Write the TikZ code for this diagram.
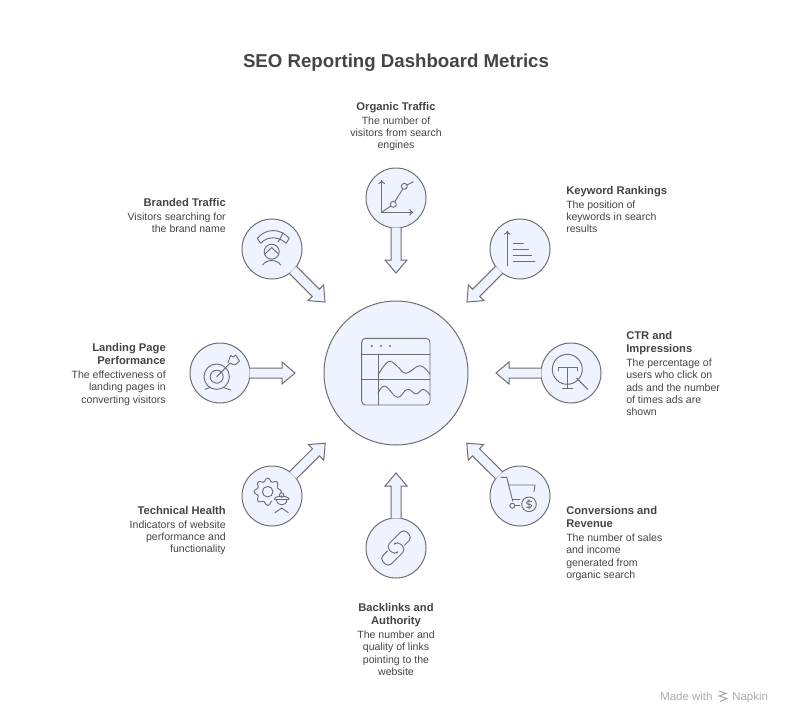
\documentclass[tikz,border=0pt]{standalone}
\usepackage{fontspec}
\setmainfont{Liberation Sans}
\usetikzlibrary{calc,arrows.meta}
\definecolor{inkgray}{HTML}{444444}
\definecolor{linegray}{HTML}{6E6E6E}
\definecolor{spotfill}{HTML}{EEF3FF}
\definecolor{marksgray}{HTML}{ABABAB}
\newcommand{\labhead}[1]{{\fontsize{8.4}{9.15}\selectfont\bfseries #1}}

\begin{document}
\begin{tikzpicture}[
  x=0.75pt,y=-0.75pt,
  spot/.style={circle,draw=linegray,fill=spotfill,line width=0.75pt,minimum size=45pt,inner sep=0pt},
  hubspot/.style={spot,minimum size=108pt},
  spoke/.style={draw=linegray,fill=spotfill,line width=0.75pt,line join=miter,to path={
    ($(\tikztostart)!22.2pt!(\tikztotarget)!3.75pt!90:(\tikztotarget)$)
    -- ($(\tikztostart)!46.5pt!(\tikztotarget)!3.75pt!90:(\tikztotarget)$)
    -- ($(\tikztostart)!46.5pt!(\tikztotarget)!8.25pt!90:(\tikztotarget)$)
    -- ($(\tikztostart)!56.25pt!(\tikztotarget)$)
    -- ($(\tikztostart)!46.5pt!(\tikztotarget)!8.25pt!-90:(\tikztotarget)$)
    -- ($(\tikztostart)!46.5pt!(\tikztotarget)!3.75pt!-90:(\tikztotarget)$)
    -- ($(\tikztostart)!22.2pt!(\tikztotarget)!3.75pt!-90:(\tikztotarget)$)}},
  glyph/.style={draw=linegray,line width=0.7pt,line cap=round,line join=round},
  tick/.style={glyph,-{To[length=3pt,width=5pt]}},
  lab/.style={inner sep=0pt,text=inkgray,font=\fontsize{7.9}{9.15}\selectfont},
  labc/.style={lab,align=center,anchor=north},
  labl/.style={lab,align=left,anchor=north west},
  labr/.style={lab,align=right,anchor=north east},
  marks/.style={inner sep=0pt,anchor=base west,text=marksgray,font=\fontsize{8.6}{10}\selectfont}
]
  \useasboundingbox (0,0) rectangle (792,724);

  \node[inner sep=0pt,text=inkgray,font=\fontsize{14}{18}\selectfont\bfseries] (title) at (396,63) {SEO Reporting Dashboard Metrics};

  \node[hubspot] (hub) at (396,373) {};
  \node[spot] (organic) at (396,198) {};
  \node[spot] (branded) at (272,249) {};
  \node[spot] (keyword) at (520,249) {};
  \node[spot] (landing) at (220,373) {};
  \node[spot] (ctr) at (571,373) {};
  \node[spot] (technical) at (272,496) {};
  \node[spot] (conversions) at (520,496) {};
  \node[spot] (backlinks) at (396,548) {};

  \draw[spoke] (organic) to (hub);
  \draw[spoke] (branded) to (hub);
  \draw[spoke] (keyword) to (hub);
  \draw[spoke] (landing) to (hub);
  \draw[spoke] (ctr) to (hub);
  \draw[spoke] (technical) to (hub);
  \draw[spoke] (conversions) to (hub);
  \draw[spoke] (backlinks) to (hub);

  \node[labc] (organic-text) at (396,102) {\labhead{Organic Traffic}\\[1.2pt]The number of\\visitors from search\\engines};
  \node[labr] (branded-text) at (226,198) {\labhead{Branded Traffic}\\[1.2pt]Visitors searching for\\the brand name};
  \node[labl] (keyword-text) at (566,186) {\labhead{Keyword Rankings}\\[1.2pt]The position of\\keywords in search\\results};
  \node[labr] (landing-text) at (166,343) {\labhead{Landing Page}\\[1pt]\labhead{Performance}\\[1.2pt]The effectiveness of\\landing pages in\\converting visitors};
  \node[labl] (ctr-text) at (626,331) {\labhead{CTR and}\\[1pt]\labhead{Impressions}\\[1.2pt]The percentage of\\users who click on\\ads and the number\\of times ads are\\shown};
  \node[labr] (technical-text) at (226,506) {\labhead{Technical Health}\\[1.2pt]Indicators of website\\performance and\\functionality};
  \node[labl] (conversions-text) at (566,506) {\labhead{Conversions and}\\[1pt]\labhead{Revenue}\\[1.2pt]The number of sales\\and income\\generated from\\organic search};
  \node[labc] (backlinks-text) at (396,603) {\labhead{Backlinks and}\\[1pt]\labhead{Authority}\\[1.2pt]The number and\\quality of links\\pointing to the\\website};

  \node[marks] (made) at (660,700) {Made with};
  \node[marks] (napkin) at (732,700) {Napkin};
  \draw[marksgray,line width=0.8pt] (719,691) -- (726,693.5) -- (719,696) -- (727,698.5) -- (720,701.5);

  % hub icon
  \draw[glyph,rounded corners=3pt] (361.7,338.3) rectangle (430,405);
  \draw[glyph] (361.7,354) -- (430,354);
  \draw[glyph] (361.7,379.3) -- (430,379.3);
  \draw[glyph] (378,354) -- (378,405);
  \fill[linegray] (371.7,346) circle (1.2) (381,346) circle (1.2) (390,346) circle (1.2);
  \draw[glyph] plot[smooth,tension=0.7] coordinates {(378,375) (388.3,361.7) (397,366) (406,373.3) (420,365.7) (430,374.3)};
  \draw[glyph] plot[smooth,tension=0.7] coordinates {(378,393.3) (385,386) (397.3,397.3) (407.3,389.3) (416,394) (423.3,389.3) (430,395)};

  % organic icon
  \draw[tick] (381.7,212.3) -- (381.7,180);
  \draw[tick] (381.7,212.3) -- (413.3,212.3);
  \draw[glyph] (381.7,212.3) -- (390.8,206) (394.8,201.6) -- (402.8,189) (407,185) -- (413.3,181.7);
  \draw[glyph] (393.3,204.3) circle (3) (404.3,186.3) circle (3);

  % branded icon
  \draw[glyph] (257.3,238.3) .. controls (266,228) and (280,228) .. (289.3,238.3) -- (286,243.3) .. controls (279,236) and (267,236) .. (260.7,243.3) -- cycle;
  \draw[glyph] (278.3,241.7) -- (283.3,232.7);
  \draw[glyph] (271.7,251.7) circle (7.5);
  \draw[glyph] (265,254) -- (271.7,247.5) -- (278.5,254);
  \draw[glyph] (262.7,265) .. controls (266,259) and (277,259) .. (280.7,265);

  % keyword icon
  \draw[tick] (507.3,266) -- (507.3,230.7);
  \draw[glyph] (513.3,243.3) -- (523.3,243.3) (513.3,249.3) -- (528.3,249.3) (513.3,255) -- (531.7,255) (513.3,261) -- (535,261);

  % landing icon
  \draw[glyph] (216.7,376.7) circle (12.7) (216.7,376.7) circle (6.5);
  \draw[glyph] (210,387.5) -- (205,389.3) (223.3,387.5) -- (230.7,390);
  \draw[glyph] (216.7,376.7) -- (230,363.3);
  \draw[glyph] (228,363) -- (230.5,355.5) -- (233.5,357) -- (235.5,355) -- (239.5,361) -- (235,365) -- (230,363.3);

  % ctr icon
  \draw[glyph] (567.3,369.3) circle (15);
  \draw[glyph] (558.3,371) -- (558.3,367.3) -- (577.3,367.3) -- (577.3,371);
  \draw[glyph] (567.3,367.3) -- (567.3,388.3) (562.7,388.3) -- (572.7,388.3);
  \draw[glyph] (576.7,378.3) -- (587.7,389.3);

  % technical icon
  \draw[glyph] plot[smooth cycle,domain=0:352.5,samples=48] ({267.7+(12+1.7*cos(8*\x))*cos(\x)},{491.7+(12+1.7*cos(8*\x))*sin(\x)});
  \draw[glyph] (267.7,491.7) circle (5.3);
  \path[fill=spotfill] (281.7,502) circle (9.5);
  \draw[glyph] (281.7,495) circle (2.2);
  \draw[glyph] (275,498) .. controls (277,495.5) and (286,495.5) .. (288.5,498) -- (289,499.5) -- (274.5,499.5) -- cycle;
  \draw[glyph] (276.5,500) .. controls (277.5,506.5) and (286,506.5) .. (287,500);
  \draw[glyph] (275,512.7) -- (281.7,508) -- (288.3,512.7);

  % conversions icon
  \draw[glyph] (501,477.3) -- (506.7,477.3) -- (512.7,501);
  \draw[glyph] (508.3,485) -- (535,485) -- (534,491.7);
  \draw[glyph] (512.7,499.3) -- (520,499.3) (514.8,505.7) -- (520,505.7);
  \draw[glyph] (512.3,505.7) circle (2.5) (529,504.3) circle (7.3);
  \draw[glyph] (531.5,501.5) .. controls (529,500) and (526,501) .. (526.5,503) .. controls (527,505) and (532,504) .. (531.8,506) .. controls (531.5,508.3) and (528,508.3) .. (526.3,507) (529,499.5) -- (529,509);

  % backlinks icon
  \begin{scope}[shift={(396,548)},rotate=45]
    \draw[glyph,rounded corners=3.5pt] (8,4) -- (19,4) -- (19,-8) -- (-6,-8) -- (-6,4) -- (-3,4);
    \draw[glyph,rounded corners=3.5pt] (-8,-4) -- (-19,-4) -- (-19,8) -- (6,8) -- (6,-4) -- (3,-4);
  \end{scope}
\end{tikzpicture}
\end{document}
